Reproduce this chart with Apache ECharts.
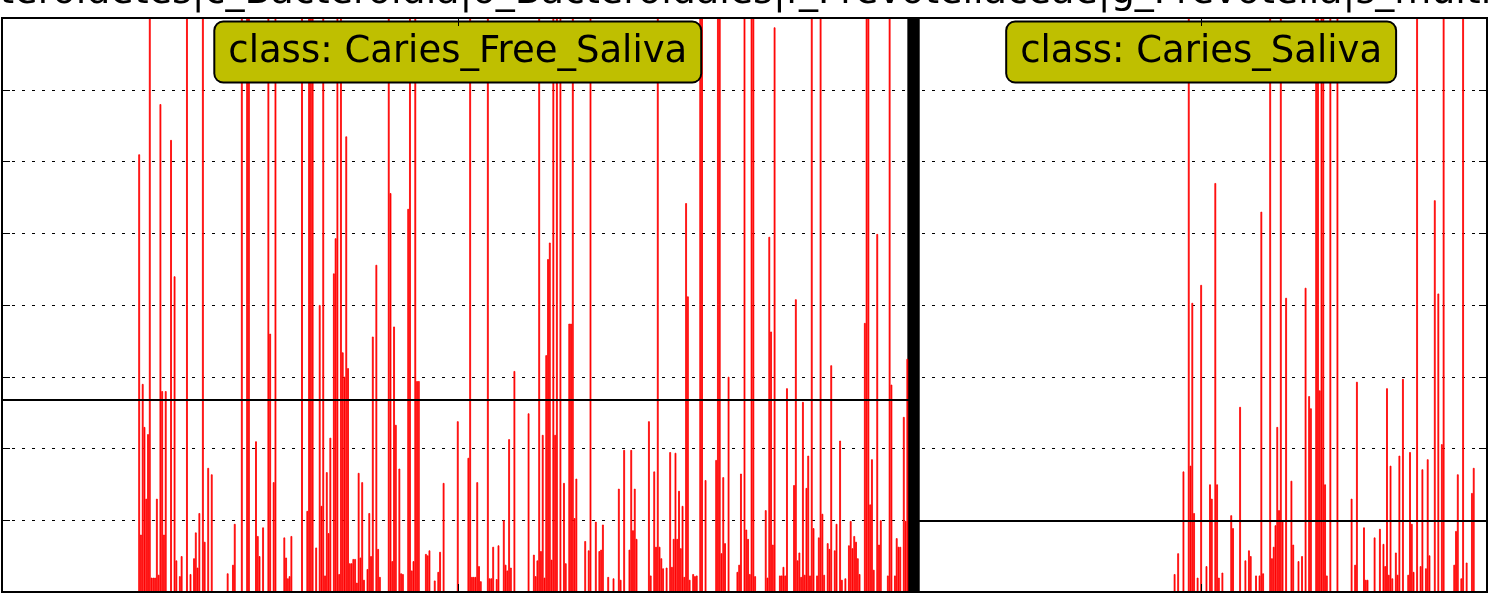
<!DOCTYPE html>
<html>
<head>
<meta charset="utf-8">
<script src="https://cdn.jsdelivr.net/npm/echarts@6/dist/echarts.min.js"></script>
<style>
  html, body { margin: 0; padding: 0; background: #fff; }
  #main { width: 1489px; height: 605px; }
</style>
</head>
<body>
<div id="main"></div>
<script>
// feature shown in the plot title (only the middle part fits in the picture)
const featureName = 'k_Bacteria|p_Bacteroidetes|c_Bacteroidia|o_Bacteroidales|f_Prevotellaceae|g_Prevotella|s_multisaccharivorax'
const classNames = ['Caries_Free_Saliva', 'Caries_Saliva']
const classMeans = [2.68, 0.99]
const yTicks = [0, 1, 2, 3, 4, 5, 6, 7, 8]

// per-sample relative abundance, class Caries_Free_Saliva
const freeValues = [
  0,0,0,0,0,0,0,0,0,0,0,0,0,0,0,0,0,0,0,0,
  0,0,0,0,0,0,0,0,0,0,0,0,0,0,0,0,0,0,0,0,
  0,0,0,0,0,0,0,0,0,0,0,0,0,0,0,0,0,0,0,0,
  0,0,0,0,0,0,0,0,0,0,0,0,0,0,0,0,0,6.1,0.8,2.9,
  2.3,1.3,2.2,9,0.2,0.2,0.2,1.3,0.24,6.8,2.8,0.8,2.8,0,0,6.3,0,4.4,0.44,0,
  0.22,0.5,0,0,9,0,0.25,0,0.47,0.83,0.34,1.1,0,9,0.7,0,1.73,0,1.64,0,
  0,0,0,0,0,0,0,0.26,0,0,0.38,0.95,0,0,0,9,0,0,9,9,
  0,0,0,2.1,0.78,0.5,0,0.9,0,0,9,3.6,0,1.53,9,0,0,0,0,0.76,
  0.48,0.19,0.22,0.78,0,0,0,0,0,9,0,0,1.13,9,9,9,0,0.62,0,4.0,
  1.2,9,0.23,1.67,0.82,2.15,0,4.44,4.93,9,0.25,9,3.34,3.0,6.35,3.12,0.4,0.4,0.46,0.46,
  0.13,1.66,0.48,1.53,0.17,0,0.32,1.1,0.5,3.56,0,4.56,0.6,0.21,0,0,0,0,9,5.56,
  0.43,3.7,2.33,0,1.72,0.26,0.25,0,0,5.34,9,0.3,0.43,9,2.94,2.94,0,0,0,0.53,
  0.51,0.58,0,0,0.16,0,0.28,0.56,0,1.52,0,0,0,0,0,0,0,2.38,0,0,
  0,0,0,1.87,9,0.21,0.21,0.21,1.53,0.36,0.15,0,0,0,9,0.19,0.19,0.63,0,0.18,
  0.65,0,0,1.0,0.38,0.3,2.13,0.34,0,3.08,0,0,0,0,0,0,0,2.49,0,0,
  0.52,0.22,0.44,9,0.57,2.19,0.2,3.3,4.64,4.87,0.45,9,2.19,9,0,9,0,1.52,0.4,0,
  3.74,3.74,9,1.03,1.58,0,0,0,0,0.71,0,0.58,9,0,0,0.98,0,0.57,0.59,0.94,
  0,0,0.21,0,0,0.19,0,0,1.44,0.17,0,1.98,0,0,0.59,1.98,0.86,1.44,0.74,0,
  0,0,0,0,0,2.38,0.23,0,1.68,0.63,9,0.63,0.47,0.33,0,0.34,0,1.95,0.35,0.74,
  1.94,0.74,1.41,0.61,1.2,0.21,5.42,4.12,0.17,0,0.25,0.22,0.23,0,9,9,0,1.56,0,0,
  0,0,0,1.84,9,9,0.54,1.6,0.68,0,3.0,0,0,0,0,0.28,0.38,1.65,0,9,
  0.87,0.74,0.25,9,9,0.22,0,0,0,0,0,1.14,0.2,4.95,3.63,0.66,7.87,0,0,0.23,
  0.23,0.35,0.23,2.84,0,0,0,1.49,4.08,0.44,0.55,0.21,2.65,0.24,1.45,1.9,0.23,9,0.89,0,
  0.23,0.76,9,1.09,0.24,0,0.68,0.6,3.16,0,0.58,0.95,0,2.11,0.17,0,0.19,0,0.65,0.99,
  0.61,0.78,0.7,0.47,0.25,0,0,3.75,9,9,1.22,1.85,0.31,0,4.99,0.66,1.0,0,0,0,
  0.23,9,2.89,0,0.23,0.75,0.63,0.63,0,2.44,0.99,3.25,0,0,0
]

// per-sample relative abundance, class Caries_Saliva
const cariesValues = [
  0,0,0,0,0,0,0,0,0,0,0,0,0,0,0,0,0,0,0,0,
  0,0,0,0,0,0,0,0,0,0,0,0,0,0,0,0,0,0,0,0,
  0,0,0,0,0,0,0,0,0,0,0,0,0,0,0,0,0,0,0,0,
  0,0,0,0,0,0,0,0,0,0,0,0,0,0,0,0,0,0,0,0,
  0,0,0,0,0,0,0,0,0,0,0,0,0,0,0,0,0,0,0,0,
  0,0,0,0,0,0,0,0,0,0,0,0,0,0,0,0,0,0,0,0,
  0,0,0,0,0,0,0,0,0,0,0,0,0,0,0,0,0,0,0,0,
  0,0,0,0,0,0,0,0.25,0,0.54,0,0,1.68,0,0,9,1.76,4.03,1.1,0,
  0.2,0,4.28,0,0,0.36,0,1.5,1.3,0,5.7,1.5,0.2,0,0.27,0,0,0,0,1.07,
  0.89,0,0,0,2.58,0,0,0.44,0,0.58,0.5,0,0,0.23,0,0.23,5.3,0.26,0,0,
  0,9,0.47,0.63,0.93,2.3,1.14,9,1.0,0,4.1,0,0,1.55,0.66,0,0,0.43,0,0.5,
  0,4.24,0,2.73,2.56,0,0,9,9,2.81,9,9,1.5,0.23,0,9,0,0,0,9,
  0,0,0,0,0,0,0,1.3,0,0.38,2.93,0,0,0,0.9,0.17,0.17,0,0,0,
  0.76,0,0,0.88,0,0.67,0.36,2.84,0.24,1.76,0.19,0,0.55,0.24,1.9,0,2.97,0,0,0.24,
  1.95,0.95,0.28,0,9,0,0.36,1.71,0,0.33,1.85,0.51,0,0,5.46,0,4.16,0,2.06,9,
  0,0,0,0,0,0.38,0.85,1.64,0,0.19,9,0,0.41,0,0,1.38,1.73,0,0,0,
  0,0,0,0
]

const allValues = freeValues.concat(cariesValues)
const sampleIds = allValues.map((v, i) => 'S' + (i + 1))
const nFree = freeValues.length
const centerIds = [
  sampleIds[Math.ceil((nFree - 1) / 2)],
  sampleIds[nFree + Math.ceil((cariesValues.length - 1) / 2)]
]

const titleFont = '38px "DejaVu Sans"'
const labelFont = '37px "DejaVu Sans"'
const plotBox = { left: 2, right: 2, top: 18, bottom: 13 }
const W = 1489, H = 605

const chart = echarts.init(document.getElementById('main'))

const tickStyle = { show: true, inside: true, length: 8, lineStyle: { color: '#000', width: 1 } }
const xAxisBase = {
  type: 'category',
  data: sampleIds,
  boundaryGap: true,
  z: 10,
  axisLine: { show: false, onZero: false },
  axisLabel: { show: false },
  axisTick: Object.assign({}, tickStyle, {
    alignWithLabel: true,
    interval: (idx, value) => centerIds.indexOf(value) >= 0
  })
}

chart.setOption({
  animation: false,
  backgroundColor: '#fff',
  grid: Object.assign({ show: false }, plotBox),
  xAxis: [
    Object.assign({}, xAxisBase, { position: 'bottom' }),
    Object.assign({}, xAxisBase, { position: 'top' })
  ],
  yAxis: [
    {
      type: 'value', min: yTicks[0], max: yTicks[yTicks.length - 1], interval: 1,
      axisLine: { show: false }, axisLabel: { show: false },
      axisTick: tickStyle,
      splitLine: { show: true, lineStyle: { color: '#000', width: 1.2, type: [3, 7] } }
    },
    {
      type: 'value', position: 'right', min: yTicks[0], max: yTicks[yTicks.length - 1], interval: 1,
      axisLine: { show: false }, axisLabel: { show: false },
      axisTick: tickStyle, splitLine: { show: false }
    }
  ],
  series: [
    {
      type: 'bar',
      data: allValues,
      barCategoryGap: '0%',
      clip: true,
      itemStyle: { color: '#ff0000', borderColor: '#ff0000', borderWidth: 0.8 },
      z: 2
    },
    {
      // class separator and class means
      type: 'line',
      data: [],
      z: 5,
      silent: true,
      markArea: {
        silent: true,
        itemStyle: { color: '#000', opacity: 1 },
        data: [[{ xAxis: sampleIds[nFree - 4] }, { xAxis: sampleIds[nFree + 3] }]]
      },
      markLine: {
        silent: true,
        symbol: 'none',
        label: { show: false },
        lineStyle: { color: '#000', width: 2, type: 'solid' },
        data: [
          [{ coord: [sampleIds[0], classMeans[0]] }, { coord: [sampleIds[nFree - 1], classMeans[0]] }],
          [{ coord: [sampleIds[nFree], classMeans[1]] }, { coord: [sampleIds[sampleIds.length - 1], classMeans[1]] }]
        ]
      }
    }
  ]
})

// title is wider than the picture; line the "c_" of the class level up with the crop
const measure = document.createElement('canvas').getContext('2d')
measure.font = titleFont
const cAt = featureName.indexOf('c_Bacteroidia') + 1
const titleX = 235 - measure.measureText(featureName.slice(0, cAt)).width - measure.measureText('_').width / 2

const centersPx = centerIds.map(id => chart.convertToPixel({ xAxisIndex: 0 }, id))

chart.setOption({
  graphic: [
    {
      type: 'text',
      x: titleX,
      y: -26,
      style: {
        text: featureName,
        font: titleFont,
        fill: '#000',
        align: 'left',
        verticalAlign: 'top'
      }
    },
    {
      // axes frame, drawn over the bars
      type: 'rect',
      z: 20,
      silent: true,
      shape: {
        x: plotBox.left, y: plotBox.top,
        width: W - plotBox.left - plotBox.right,
        height: H - plotBox.top - plotBox.bottom
      },
      style: { fill: null, stroke: '#000', lineWidth: 2 }
    }
  ].concat(classNames.map((name, i) => ({
    type: 'text',
    x: centersPx[i],
    y: 52,
    z: 10,
    style: {
      text: 'class: ' + name,
      font: labelFont,
      fill: '#000',
      align: 'center',
      verticalAlign: 'middle',
      backgroundColor: '#bfbf00',
      borderColor: '#000',
      borderWidth: 2,
      borderRadius: 8,
      padding: [11, 13]
    }
  })))
})
</script>
</body>
</html>
